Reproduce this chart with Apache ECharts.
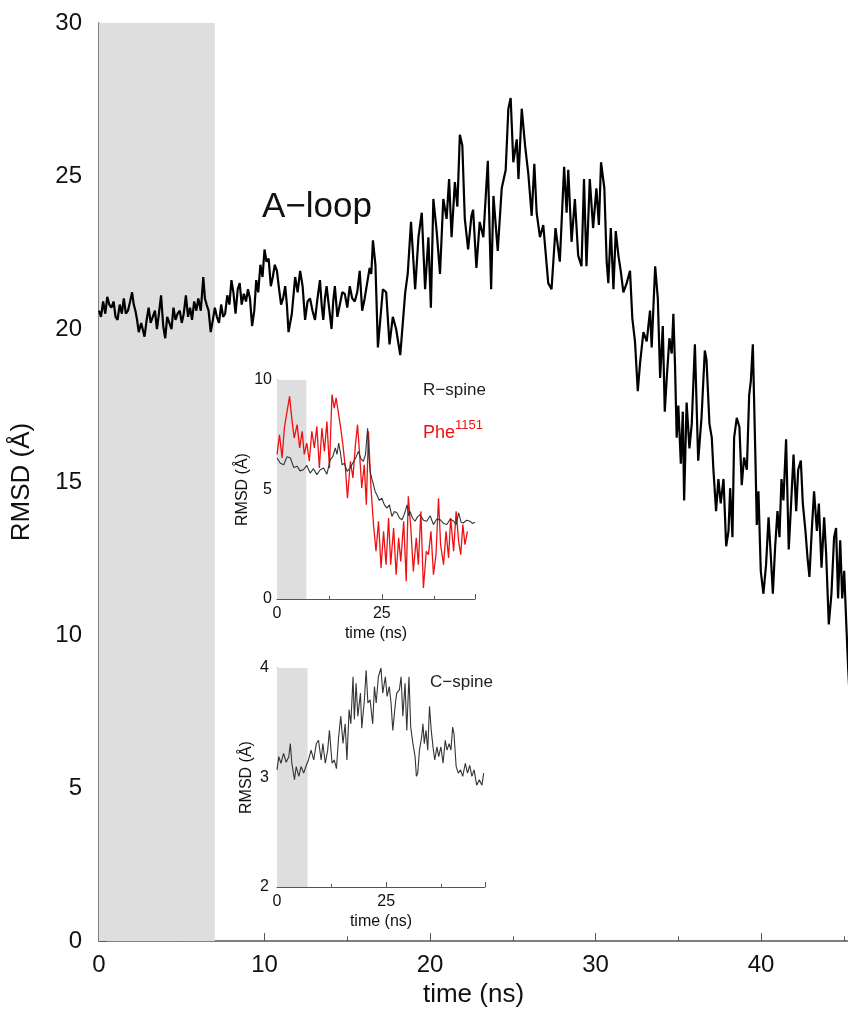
<!DOCTYPE html>
<html>
<head>
<meta charset="utf-8">
<script src="https://cdn.jsdelivr.net/npm/echarts@6/dist/echarts.min.js"></script>
<style>html,body{margin:0;padding:0;background:#fff;}#c{width:848px;height:1013px;}</style>
</head>
<body>
<div id="c"></div>
<script>
// ---------- data ----------
const equilibration = [0, 7];

const mainTime = [0,0.12,0.25,0.38,0.5,0.62,0.75,0.88,1,1.12,1.25,1.38,1.5,1.62,1.75,1.88,2,2.1,2.2,2.3,2.4,2.55,2.75,2.88,3,3.12,3.25,3.38,3.5,3.62,3.75,3.88,4,4.12,4.25,4.38,4.5,4.62,4.75,4.88,5,5.12,5.25,5.38,5.5,5.62,5.75,5.88,6,6.15,6.3,6.4,6.5,6.62,6.75,6.88,7,7.12,7.25,7.38,7.5,7.62,7.75,7.88,8,8.12,8.25,8.38,8.5,8.62,8.75,8.88,9,9.12,9.25,9.38,9.5,9.62,9.75,9.88,10,10.12,10.25,10.38,10.5,10.62,10.75,10.88,11,11.12,11.25,11.35,11.45,11.65,11.85,12.0,12.15,12.3,12.45,12.6,12.75,12.9,13.05,13.2,13.35,13.45,13.55,13.65,13.75,13.9,14.05,14.15,14.25,14.4,14.55,14.7,14.85,15.0,15.15,15.3,15.45,15.6,15.75,15.9,16.05,16.2,16.35,16.45,16.55,
  16.7,16.85,17.15,17.35,17.55,17.75,17.95,18.2,18.5,18.65,18.85,19.1,19.3,19.5,19.7,19.9,20.05,20.2,20.4,20.6,20.8,21.0,21.15,21.3,21.5,21.65,21.8,21.95,22.1,22.3,22.5,22.6,22.8,23.0,23.22,23.49,23.69,23.83,24.09,24.33,24.57,24.73,24.87,25.03,25.24,25.34,25.54,25.74,25.94,26.14,26.3,26.44,26.64,26.84,27.14,27.34,27.58,27.84,28.1,28.25,28.35,28.55,28.75,28.95,29.15,29.3,29.45,29.65,29.85,30.05,30.2,30.33,30.53,30.67,30.77,30.92,31.08,31.22,31.38,31.52,31.68,31.88,32.08,32.22,32.38,32.55,32.69,32.89,33.09,33.29,33.39,33.6,33.76,33.9,34.06,34.18,34.3,34.46,34.6,34.7,34.8,34.9,35.0,35.15,35.27,35.35,35.5,35.67,35.81,36.0,36.2,36.4,36.6,36.7,36.88,37.02,37.12,37.28,37.42,37.56,37.73,37.89,38.03,38.13,38.27,38.37,38.53,38.69,38.83,38.97,39.14,39.28,39.38,39.5,39.66,39.74,39.84,39.98,40.14,40.3,40.45,40.59,40.71,40.85,40.99,41.11,41.23,41.35,41.51,41.67,41.79,41.96,42.12,42.24,42.4,42.52,42.68,42.8,42.92,43.06,43.2,43.37,43.49,43.65,43.81,43.93,44.09,44.25,44.41,44.53,44.65,44.78,44.9,45.02,45.14,45.26,45.35];
const mainRmsd = [20.6,20.4,20.9,20.5,21.05,20.8,20.7,20.9,20.4,20.3,20.8,20.5,21.0,20.5,20.6,20.9,21.2,20.8,20.6,20.3,19.9,20.2,19.75,20.3,20.7,20.2,20.4,20.6,20.0,20.5,21.1,20.1,19.7,20.4,20.2,20.0,20.7,20.3,20.5,20.6,20.2,20.5,21.1,20.4,20.7,20.3,20.9,20.6,21.0,20.6,21.7,21.0,20.8,20.6,19.9,20.3,20.7,20.4,20.2,20.8,20.4,20.5,21.1,20.8,21.6,21.2,20.5,21.3,21.5,20.8,21.15,20.9,21.3,21.0,20.1,20.6,21.6,21.2,22.1,21.7,22.6,22.2,22.3,21.4,21.7,22.1,21.9,21.3,20.8,21.0,21.4,20.8,19.9,20.5,21.7,21.2,21.9,21.4,20.3,20.9,21.0,20.6,20.3,21.0,21.6,20.8,20.3,21.0,21.4,20.7,20.0,20.9,21.4,20.4,20.8,21.2,21.15,20.7,21.4,21.0,20.9,21.2,21.9,20.6,21.0,21.5,22.0,21.8,22.9,
  22.1,19.4,21.3,21.2,19.5,20.4,20.0,19.15,21.2,21.8,23.5,21.3,23.0,23.8,21.3,23.0,20.7,24.25,23.2,21.8,24.25,23.6,24.9,23.0,24.8,24.0,26.35,26.0,23.6,22.6,23.7,23.9,22.0,23.5,23.0,25.5,21.3,24.35,22.55,24.6,25.2,27.2,27.55,25.45,26.2,24.9,27.2,26.0,25.05,23.7,25.4,23.8,23.0,23.4,21.5,21.3,23.3,22.2,25.3,23.8,25.2,22.85,24.25,22.4,22.05,24.9,22.05,24.9,23.3,24.6,23.4,25.45,24.6,22.2,21.5,23.3,21.3,23.2,22.4,21.9,21.2,21.5,21.9,20.35,19.6,17.97,18.9,19.9,19.6,20.6,19.4,22.05,21.0,18.4,20.1,17.3,18.4,19.7,19.2,20.5,18.8,16.45,17.5,15.6,17.3,14.4,17.6,16.1,16.9,19.5,15.7,17.1,19.3,19.0,16.9,16.45,15.4,14.05,15.1,14.3,15.1,12.9,13.4,14.8,13.2,16.45,17.1,16.8,14.9,15.8,15.4,17.85,18.3,19.5,15.7,13.6,14.7,12.1,11.35,12.3,13.85,12.55,11.35,12.9,14.05,13.2,15.1,14.4,16.4,12.8,14.05,15.9,14.05,15.4,15.7,14.3,13.4,12.55,11.9,13.4,14.7,13.4,14.3,12.2,13.85,12.65,10.35,11.35,13.2,13.5,11.2,13.1,11.2,12.1,10.45,8.9,8.0];

const rspineTime = [0,0.8,1.6,2.4,3.2,4.0,4.8,5.5,6.3,7.1,7.9,8.7,9.5,10.3,11.1,11.9,12.7,13.3,13.9,14.3,14.7,15.1,15.5,16.1,16.7,17.5,18.3,18.9,19.4,20.0,20.6,21.1,21.6,21.9,22.2,22.6,23.0,23.4,23.8,24.4,25.0,25.6,26.2,26.8,27.4,28.0,28.6,29.2,29.8,30.4,31.0,31.4,31.7,32.3,32.9,33.5,34.1,34.9,35.7,36.5,37.3,38.1,38.9,39.7,40.5,41.3,42.1,42.7,43.3,43.9,44.4,45.2,46.0,46.6,47.2];
const rspineRmsd = [6.44,6.2,6.13,6.5,6.44,6.0,6.06,5.85,5.9,6.1,5.75,5.95,5.68,5.9,5.98,5.7,6.36,6.5,6.9,6.6,7.12,6.7,6.13,6.2,5.83,6.0,6.29,6.5,6.74,6.4,6.29,6.6,7.8,6.5,5.83,5.5,5.22,4.9,4.76,4.5,4.6,4.3,4.15,4.3,3.77,4.0,3.93,3.7,3.62,3.9,4.3,3.8,4.0,3.7,3.55,3.75,3.85,3.6,3.55,3.8,3.4,3.65,3.62,3.45,3.4,3.65,3.55,3.4,3.93,3.5,3.47,3.6,3.55,3.45,3.5];

const pheTime = [0,0.6,1.2,1.75,2.4,3.0,3.6,4.1,4.8,5.4,6.0,6.5,7.1,7.7,8.3,8.9,9.5,10.1,10.7,11.3,11.9,12.5,13.1,13.65,14.1,14.7,15.2,15.7,16.3,16.8,17.5,18.1,18.7,19.2,19.7,20.2,20.8,21.3,21.8,22.4,23.0,23.6,24.2,24.8,25.4,26.0,26.6,27.1,27.8,28.4,29.0,29.5,30.2,30.8,31.3,31.9,32.5,33.2,33.7,34.3,34.9,35.6,36.1,36.7,37.3,37.9,38.5,39.0,39.7,40.3,40.9,41.4,42.1,42.7,43.3,43.8,44.3,44.8,45.4];
const pheRmsd = [6.6,7.5,6.44,7.8,8.57,9.25,8.1,7.35,7.96,6.9,7.66,6.6,7.12,6.29,7.66,6.9,7.88,5.98,7.8,6.74,8.1,5.98,9.33,8.72,9.18,8.42,7.8,7.05,5.98,4.6,6.29,5.53,7.05,7.96,6.6,5.07,6.13,4.3,7.66,5.07,3.4,2.18,3.55,1.42,3.09,1.57,3.7,1.57,3.24,1.11,2.79,1.72,3.55,0.81,4.69,3.24,1.26,2.79,1.57,4.0,0.5,2.18,2.02,3.09,1.11,2.02,4.6,2.48,1.57,3.09,1.87,3.7,2.18,4.0,2.63,2.02,3.4,2.48,3.09];

const cspineTime = [0,0.4,0.9,1.5,2.1,2.7,3.05,3.4,4.0,4.4,5.0,5.5,6.1,6.7,7.2,7.8,8.4,9.0,9.5,10.1,10.5,11.05,11.6,12.0,12.6,13.1,13.6,14.1,14.6,15.1,15.6,16.0,16.5,16.9,17.4,17.7,18.1,18.5,19.1,19.4,20.0,20.4,20.8,21.3,21.9,22.3,22.7,23.2,23.8,24.2,24.8,25.2,25.7,26.1,26.5,27.1,27.4,28.0,28.4,28.8,29.3,29.7,30.2,30.6,31.1,31.6,31.9,32.2,32.6,33.1,33.4,33.7,34.1,34.5,34.9,35.3,35.7,36.1,36.6,37.0,37.5,38.0,38.5,38.9,39.4,39.8,40.2,40.5,41.0,41.5,42.0,42.5,43.1,43.6,44.1,44.6,45.1,45.7,46.3,46.9,47.3];
const cspineRmsd = [3.07,3.19,3.13,3.22,3.14,3.19,3.31,3.13,2.98,3.1,3.01,3.1,3.04,3.11,3.16,3.25,3.16,3.31,3.34,3.16,3.31,3.13,3.25,3.43,3.13,3.16,3.08,3.37,3.56,3.31,3.49,3.16,3.62,3.49,3.92,3.53,3.86,3.56,3.77,3.45,3.71,3.98,3.68,3.71,3.49,3.83,3.68,3.92,4.0,3.77,3.92,3.74,3.83,3.68,3.43,3.68,3.77,3.8,3.92,3.56,3.86,3.43,3.92,3.46,3.31,3.19,3.01,3.04,3.25,3.37,3.49,3.31,3.43,3.25,3.65,3.43,3.28,3.16,3.28,3.19,3.28,3.13,3.34,3.25,3.31,3.25,3.46,3.4,3.1,3.04,3.07,3.01,3.13,3.04,3.11,3.01,3.07,2.93,2.98,2.93,3.04];

const mainXTicks = [0, 10, 20, 30, 40];
const mainYTicks = [0, 5, 10, 15, 20, 25, 30];
const inset1YTicks = [0, 5, 10];
const inset2YTicks = [2, 3, 4];
const insetXTicks = [0, 25];

// ---------- chart ----------
const zip = (a, b) => a.map((v, i) => [v, b[i]]);
const FONT = 'Liberation Sans, Arial, sans-serif';
const axisColor = '#555';
const labelColor = '#111';

function xAxisCfg(grid, max, interval, ticks, fs, margin, name, nameGap, nameSize, tickLen) {
  return {
    type: 'value', gridIndex: grid, min: 0, max: max, interval: interval,
    name: name, nameLocation: 'middle', nameGap: nameGap,
    nameTextStyle: { fontFamily: FONT, fontSize: nameSize, color: labelColor },
    axisLine: { show: true, onZero: false, lineStyle: { color: axisColor, width: grid === 0 ? 1.5 : 1 } },
    axisTick: { show: true, inside: true, length: tickLen, lineStyle: { color: axisColor } },
    minorTick: { show: true, splitNumber: 2, length: tickLen * 0.6, lineStyle: { color: axisColor } },
    splitLine: { show: false },
    axisLabel: {
      fontFamily: FONT, fontSize: fs, color: labelColor, margin: margin,
      showMaxLabel: false,
      formatter: v => ticks.indexOf(v) >= 0 ? String(v) : ''
    }
  };
}
function yAxisCfg(grid, min, max, interval, ticks, fs, margin, name, nameGap, nameSize, tickLen) {
  return {
    type: 'value', gridIndex: grid, min: min, max: max, interval: interval,
    name: name, nameLocation: 'middle', nameGap: nameGap,
    nameTextStyle: { fontFamily: FONT, fontSize: nameSize, color: labelColor },
    axisLine: { show: true, onZero: false, lineStyle: { color: axisColor, width: grid === 0 ? 1.5 : 1 } },
    axisTick: { show: true, inside: true, length: tickLen, lineStyle: { color: axisColor } },
    minorTick: { show: true, splitNumber: 2, length: tickLen * 0.6, lineStyle: { color: axisColor } },
    splitLine: { show: false },
    axisLabel: {
      fontFamily: FONT, fontSize: fs, color: labelColor, margin: margin,
      formatter: v => ticks.indexOf(v) >= 0 ? String(v) : ''
    }
  };
}

const shade = (color) => ({
  silent: true,
  itemStyle: { color: color },
  data: [[{ xAxis: equilibration[0] }, { xAxis: equilibration[1] }]]
});

const chart = echarts.init(document.getElementById('c'), null, { renderer: 'canvas' });
chart.setOption({
  animation: false,
  backgroundColor: '#fff',
  grid: [
    { left: 99, top: 23, width: 749, height: 923 },
    { left: 277, top: 380, width: 198, height: 219 },
    { left: 277, top: 668, width: 208, height: 219 }
  ],
  xAxis: [
    xAxisCfg(0, 45.25, 10, mainXTicks, 24, 12, 'time (ns)', 38, 26, 8),
    xAxisCfg(1, 47.2, 25, insetXTicks, 16, 7, 'time (ns)', 27, 16, 5),
    xAxisCfg(2, 47.6, 25, insetXTicks, 16, 7, 'time (ns)', 27, 16, 5)
  ],
  yAxis: [
    yAxisCfg(0, 0, 30, 5, mainYTicks, 24, 17, 'RMSD (Å)', 64, 26, 8),
    yAxisCfg(1, 0, 10, 5, inset1YTicks, 16, 5, 'RMSD (Å)', 26, 16, 5),
    yAxisCfg(2, 2, 4, 1, inset2YTicks, 16, 8, 'RMSD (Å)', 22, 16, 5)
  ],
  series: [
    { type: 'line', name: 'A-loop', xAxisIndex: 0, yAxisIndex: 0, data: zip(mainTime, mainRmsd),
      showSymbol: false, lineStyle: { color: '#000', width: 2.2 }, markArea: shade('#dedede'), z: 3 },
    { type: 'line', name: 'R-spine', xAxisIndex: 1, yAxisIndex: 1, data: zip(rspineTime, rspineRmsd),
      showSymbol: false, lineStyle: { color: '#333', width: 1.1 }, markArea: shade('#dedede'), z: 4 },
    { type: 'line', name: 'Phe1151', xAxisIndex: 1, yAxisIndex: 1, data: zip(pheTime, pheRmsd),
      showSymbol: false, lineStyle: { color: '#f01010', width: 1.3 }, z: 3 },
    { type: 'line', name: 'C-spine', xAxisIndex: 2, yAxisIndex: 2, data: zip(cspineTime, cspineRmsd),
      showSymbol: false, lineStyle: { color: '#333', width: 1.1 }, markArea: shade('#dedede'), z: 3 }
  ],
  graphic: [
    { type: 'text', left: 262, top: 190, style: { text: 'A\u2212loop', font: '35px ' + FONT, fill: '#111' } },
    { type: 'text', left: 423, top: 382, style: { text: 'R\u2212spine', font: '17px ' + FONT, fill: '#222' } },
    { type: 'text', left: 423, top: 424, style: { text: 'Phe', font: '18px ' + FONT, fill: '#f01010' } },
    { type: 'text', left: 455, top: 419, style: { text: '1151', font: '13px ' + FONT, fill: '#f01010' } },
    { type: 'text', left: 430, top: 674, style: { text: 'C\u2212spine', font: '17px ' + FONT, fill: '#222' } }
  ]
});
</script>
</body>
</html>
